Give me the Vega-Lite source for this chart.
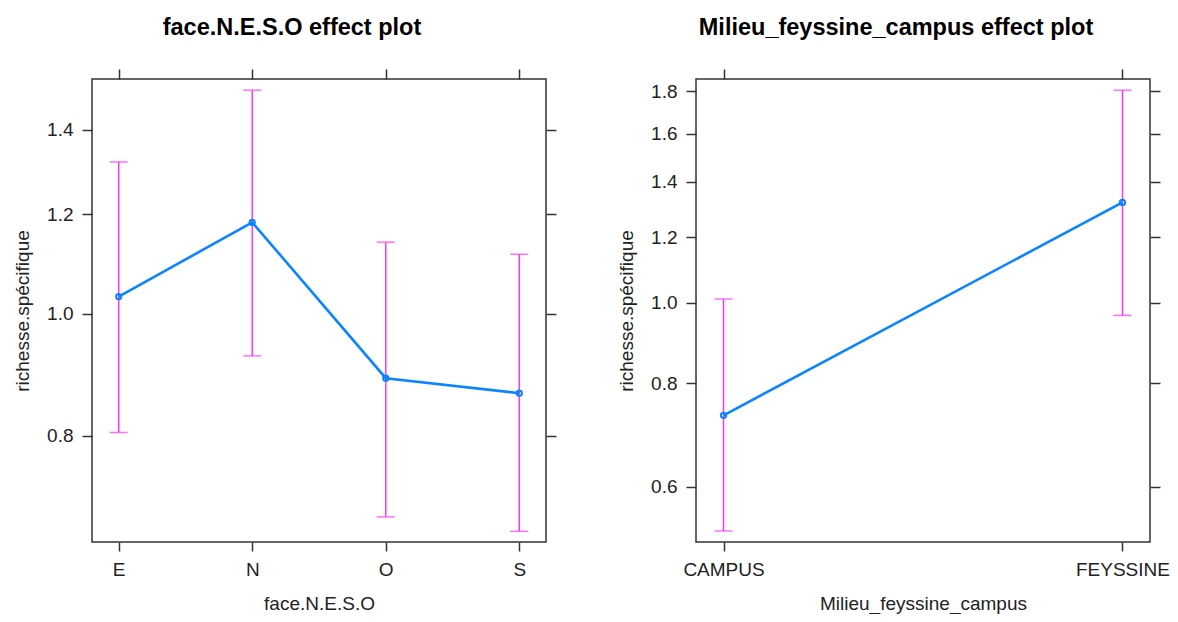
{
  "$schema": "https://vega.github.io/schema/vega-lite/v6.json",
  "autosize": {"type": "pad"},
  "padding": {"left": 12, "top": 15, "right": 0, "bottom": 0},
  "bounds": "flush",
  "spacing": 150,
  "background": "white",
  "config": {
    "font": "Liberation Sans",
    "view": {"stroke": "#333333", "strokeWidth": 1.5},
    "axis": {
      "grid": false,
      "domain": false,
      "tickColor": "#333333",
      "tickWidth": 1.5,
      "labelFont": "Liberation Sans",
      "labelFontSize": 19,
      "labelColor": "#222222",
      "titleFont": "Liberation Sans",
      "titleFontSize": 19,
      "titleFontWeight": "normal",
      "titleColor": "#222222"
    },
    "title": {"font": "Liberation Sans", "fontSize": 23.5, "fontWeight": "bold", "color": "#000000", "anchor": "middle", "frame": "group", "dx": -27, "offset": 29}
  },
  "datasets": {
    "face": [
      {"level": "E", "est": 1.032, "lower": 0.805, "upper": 1.320},
      {"level": "N", "est": 1.182, "lower": 0.926, "upper": 1.505},
      {"level": "O", "est": 0.889, "lower": 0.690, "upper": 1.140},
      {"level": "S", "est": 0.865, "lower": 0.672, "upper": 1.115}
    ],
    "milieu": [
      {"level": "CAMPUS", "est": 0.732, "lower": 0.531, "upper": 1.011},
      {"level": "FEYSSINE", "est": 1.322, "lower": 0.966, "upper": 1.805}
    ]
  },
  "hconcat": [
    {
      "title": "face.N.E.S.O effect plot",
      "width": 454,
      "height": 463,
      "data": {"name": "face"},
      "resolve": {"scale": {"x": "shared", "y": "shared"}, "axis": {"x": "independent", "y": "independent"}},
      "layer": [
        {
          "mark": {"type": "rule", "color": "#ff33ff", "strokeWidth": 1.5},
          "encoding": {
            "x": {"field": "level", "type": "nominal", "sort": ["E", "N", "O", "S"],
                  "scale": {"type": "point", "padding": 0.2},
                  "axis": {"orient": "bottom", "title": "face.N.E.S.O", "labelAngle": 0, "tickSize": 9, "labelPadding": 9, "titlePadding": 15}},
            "y": {"field": "lower", "type": "quantitative",
                  "scale": {"type": "log", "domain": [0.659, 1.536], "nice": false, "zero": false},
                  "axis": {"orient": "left", "title": "richesse.spécifique", "values": [0.8, 1.0, 1.2, 1.4], "format": ".1f", "tickSize": 10, "labelPadding": 9, "titlePadding": 14}},
            "y2": {"field": "upper"}
          }
        },
        {
          "mark": {"type": "tick", "color": "#ff33ff", "size": 18, "thickness": 1.5},
          "encoding": {
            "x": {"field": "level", "type": "nominal", "sort": ["E", "N", "O", "S"],
                  "axis": {"orient": "top", "labels": false, "title": null, "tickSize": 10}},
            "y": {"field": "upper", "type": "quantitative",
                  "axis": {"orient": "right", "labels": false, "title": null, "values": [0.8, 1.0, 1.2, 1.4], "tickSize": 10}}
          }
        },
        {
          "mark": {"type": "tick", "color": "#ff33ff", "size": 18, "thickness": 1.5},
          "encoding": {
            "x": {"field": "level", "type": "nominal", "sort": ["E", "N", "O", "S"], "axis": null},
            "y": {"field": "lower", "type": "quantitative", "axis": null}
          }
        },
        {
          "mark": {"type": "line", "color": "#0a84ff", "strokeWidth": 2.6},
          "encoding": {
            "x": {"field": "level", "type": "nominal", "sort": ["E", "N", "O", "S"], "axis": null},
            "y": {"field": "est", "type": "quantitative", "axis": null}
          }
        },
        {
          "mark": {"type": "point", "shape": "circle", "filled": false, "color": "#0a84ff", "size": 28, "strokeWidth": 2, "opacity": 1},
          "encoding": {
            "x": {"field": "level", "type": "nominal", "sort": ["E", "N", "O", "S"], "axis": null},
            "y": {"field": "est", "type": "quantitative", "axis": null}
          }
        }
      ]
    },
    {
      "title": "Milieu_feyssine_campus effect plot",
      "width": 454,
      "height": 463,
      "data": {"name": "milieu"},
      "resolve": {"scale": {"x": "shared", "y": "shared"}, "axis": {"x": "independent", "y": "independent"}},
      "layer": [
        {
          "mark": {"type": "rule", "color": "#ff33ff", "strokeWidth": 1.5},
          "encoding": {
            "x": {"field": "level", "type": "nominal", "sort": ["CAMPUS", "FEYSSINE"],
                  "scale": {"type": "point", "padding": 0.069},
                  "axis": {"orient": "bottom", "title": "Milieu_feyssine_campus", "labelAngle": 0, "tickSize": 9, "labelPadding": 9, "titlePadding": 15}},
            "y": {"field": "lower", "type": "quantitative",
                  "scale": {"type": "log", "domain": [0.515, 1.862], "nice": false, "zero": false},
                  "axis": {"orient": "left", "title": "richesse.spécifique", "values": [0.6, 0.8, 1.0, 1.2, 1.4, 1.6, 1.8], "format": ".1f", "tickSize": 10, "labelPadding": 9, "titlePadding": 14}},
            "y2": {"field": "upper"}
          }
        },
        {
          "mark": {"type": "tick", "color": "#ff33ff", "size": 18, "thickness": 1.5},
          "encoding": {
            "x": {"field": "level", "type": "nominal", "sort": ["CAMPUS", "FEYSSINE"],
                  "axis": {"orient": "top", "labels": false, "title": null, "tickSize": 10}},
            "y": {"field": "upper", "type": "quantitative",
                  "axis": {"orient": "right", "labels": false, "title": null, "values": [0.6, 0.8, 1.0, 1.2, 1.4, 1.6, 1.8], "tickSize": 10}}
          }
        },
        {
          "mark": {"type": "tick", "color": "#ff33ff", "size": 18, "thickness": 1.5},
          "encoding": {
            "x": {"field": "level", "type": "nominal", "sort": ["CAMPUS", "FEYSSINE"], "axis": null},
            "y": {"field": "lower", "type": "quantitative", "axis": null}
          }
        },
        {
          "mark": {"type": "line", "color": "#0a84ff", "strokeWidth": 2.6},
          "encoding": {
            "x": {"field": "level", "type": "nominal", "sort": ["CAMPUS", "FEYSSINE"], "axis": null},
            "y": {"field": "est", "type": "quantitative", "axis": null}
          }
        },
        {
          "mark": {"type": "point", "shape": "circle", "filled": false, "color": "#0a84ff", "size": 28, "strokeWidth": 2, "opacity": 1},
          "encoding": {
            "x": {"field": "level", "type": "nominal", "sort": ["CAMPUS", "FEYSSINE"], "axis": null},
            "y": {"field": "est", "type": "quantitative", "axis": null}
          }
        }
      ]
    }
  ]
}
